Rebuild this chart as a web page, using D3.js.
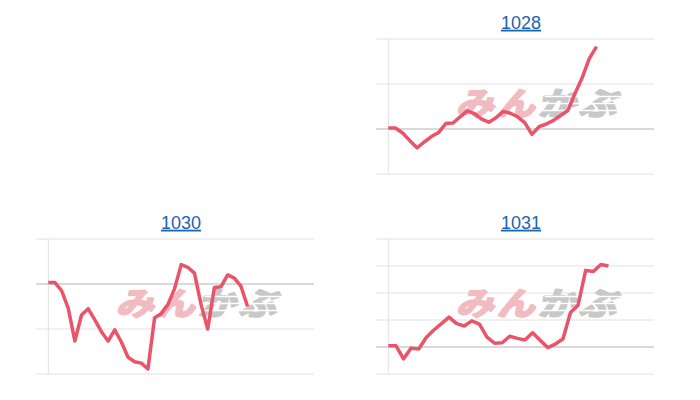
<!DOCTYPE html>
<html>
<head>
<meta charset="utf-8">
<script src="https://cdn.jsdelivr.net/npm/d3@7"></script>
<style>
  body { margin: 0; background: #fff; }
  .title { font-family: "Liberation Sans", Arial, sans-serif; font-size: 18px; fill: #1a66b0; text-decoration: underline; }
</style>
</head>
<body>
<div id="chart"></div>
<script>
// intraday moves, % vs previous close
const titles = ["1028", "1030", "1031"];
const values1028 = [0.01, 0.01, -0.10, -0.27, -0.43, -0.30, -0.18, -0.09, 0.11, 0.12,
  0.26, 0.39, 0.33, 0.21, 0.14, 0.24, 0.38, 0.34, 0.26, 0.13,
  -0.13, 0.04, 0.10, 0.18, 0.29, 0.40, 0.78, 1.13, 1.56, 1.82];
const values1030 = [0.02, 0.02, -0.16, -0.55, -1.28, -0.70, -0.56, -0.81, -1.07, -1.28,
  -1.03, -1.30, -1.64, -1.74, -1.77, -1.90, -0.76, -0.67, -0.47, -0.12,
  0.42, 0.36, 0.23, -0.47, -1.01, -0.09, -0.07, 0.19, 0.12, -0.06, -0.51];
const values1031 = [0.03, 0.03, -0.46, -0.06, -0.09, 0.33, 0.61, 0.85, 1.09, 0.85,
  0.76, 0.95, 0.83, 0.35, 0.12, 0.14, 0.38, 0.30, 0.24, 0.51,
  0.23, -0.04, 0.09, 0.28, 1.26, 1.53, 2.82, 2.78, 3.04, 2.98];
const seriesList = [values1028, values1030, values1031];
const slotCounts = [37, 40, 35];
const tickValues = [[-1, 0, 1, 2], [-2, -1, 0, 1], [-1, 0, 1, 2, 3, 4]];

const width = 700, height = 400;
const cellW = 340, cellH = 200, offsetX = 10;
const cells = [1, 2, 3]; // grid slot 0 (top-left) stays empty
const gridLeft = 26, axisX = 38.3, plotRight = 304;
const plotTop = 38.5, plotBottom = 173.5;

const svg = d3.select('#chart')
  .append('svg')
  .attr('width', width)
  .attr('height', height);

titles.forEach((name, i) => {
  const col = cells[i] % 2, row = Math.floor(cells[i] / 2);
  const g = svg.append('g')
    .attr('transform', 'translate(' + (offsetX + col * cellW) + ',' + (row * cellH) + ')');

  const x = d3.scaleLinear().domain([0, slotCounts[i]]).range([axisX, plotRight]);
  const y = d3.scaleLinear().domain(d3.extent(tickValues[i])).range([plotBottom, plotTop]);

  g.append('text')
    .attr('class', 'title')
    .attr('x', cellW / 2 + 1)
    .attr('y', 28.7)
    .attr('text-anchor', 'middle')
    .text(name);

  // gridlines, the zero line a bit darker
  const grid = g.append('g')
    .attr('transform', 'translate(' + gridLeft + ',0)')
    .call(d3.axisLeft(y).tickValues(tickValues[i]).tickSize(-(plotRight - gridLeft)).tickFormat(''));
  grid.select('.domain').remove();
  grid.selectAll('.tick line')
    .attr('stroke', d => d === 0 ? '#b4b4b4' : '#e2e2e2')
    .attr('stroke-width', 1);

  g.append('line')
    .attr('x1', axisX).attr('x2', axisX)
    .attr('y1', plotTop).attr('y2', plotBottom)
    .attr('stroke', '#e0e0e0');

  // watermark logo
  const logo = g.append('g')
    .attr('transform', 'translate(106,115) skewX(-14) scale(1.05,0.88)');
  const txt = logo.append('text')
    .style('font-family', '"Noto Sans CJK JP", sans-serif')
    .style('font-weight', 'bold')
    .style('font-size', '36px')
    .style('letter-spacing', '3px')
    .style('paint-order', 'stroke')
    .attr('stroke-width', 2.5)
    .attr('stroke-linejoin', 'round');
  txt.append('tspan').attr('fill', '#f1bcc1').attr('stroke', '#f1bcc1').text('みん');
  txt.append('tspan').attr('fill', '#c8c8c8').attr('stroke', '#c8c8c8').text('かぶ');
  [-22, -14, -6].forEach(dy => {
    logo.append('rect')
      .attr('x', 80).attr('y', dy)
      .attr('width', 86).attr('height', 1.8)
      .attr('fill', '#fff');
  });

  const line = d3.line()
    .x((d, k) => x(k))
    .y(d => y(d));

  g.append('path')
    .datum(seriesList[i])
    .attr('d', line)
    .attr('fill', 'none')
    .attr('stroke', '#e9546b')
    .attr('stroke-width', 3.5)
    .attr('stroke-linejoin', 'round');
});
</script>
</body>
</html>
